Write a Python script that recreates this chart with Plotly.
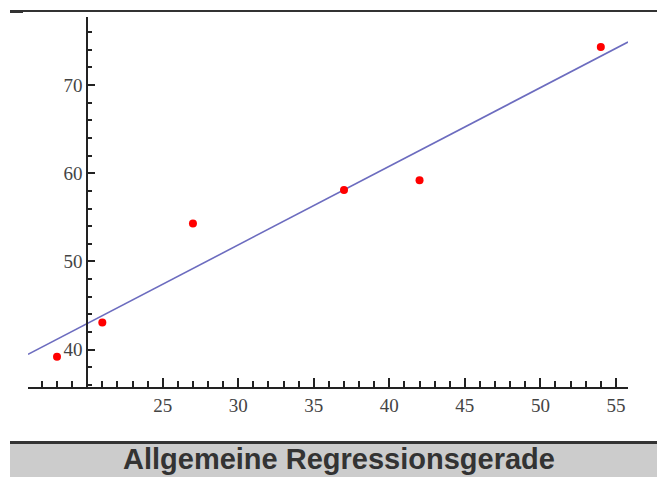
import numpy as np
import plotly.graph_objects as go

# Data
x_values = [18, 21, 27, 37, 42, 54]
y_values = [39.2, 43.1, 54.3, 58.1, 59.2, 74.3]

x_ticks = [25, 30, 35, 40, 45, 50, 55]
y_ticks = [40, 50, 60, 70]
title_text = "Allgemeine Regressionsgerade"

# Axis setup
x_range = [16.08, 55.8]
y_range = [35.78, 77.7]
x_cross = 20  # where the y axis sits

# Least squares regression of the points
slope, intercept = np.polyfit(x_values, y_values, 1)
line_x = np.array(x_range)
line_y = slope * line_x + intercept

W, H = 657, 477
ml, mr, mt, mb = 28, 29, 17, 90
pw, ph = W - ml - mr, H - mt - mb


def px(xp):
    return (xp - ml) / pw


def py(yp):
    return (H - mb - yp) / ph


fig = go.Figure()
fig.add_trace(go.Scatter(x=line_x, y=line_y, mode="lines",
                         line=dict(color="#6c6cbf", width=1.6),
                         hoverinfo="skip", showlegend=False))
fig.add_trace(go.Scatter(x=x_values, y=y_values, mode="markers",
                         marker=dict(color="#ff0000", size=8),
                         showlegend=False))

tick_font = dict(family="Liberation Serif, Times New Roman, serif", size=19, color="#444444")

fig.update_xaxes(range=x_range, showline=True, linecolor="#222222", linewidth=2,
                 ticks="inside", ticklen=9, tickwidth=1.6, tickcolor="#222222",
                 tickmode="array", tickvals=x_ticks, ticktext=[str(v) for v in x_ticks],
                 tickfont=tick_font, showgrid=False, zeroline=False,
                 minor=dict(ticks="inside", ticklen=6, tickwidth=1.6, tickcolor="#222222",
                            tickmode="linear", tick0=0, dtick=1, showgrid=False),
                 anchor="y", fixedrange=True)
fig.update_yaxes(range=y_range, showline=True, linecolor="#222222", linewidth=2,
                 ticks="inside", ticklen=7, tickwidth=1.6, tickcolor="#222222",
                 tickmode="array", tickvals=y_ticks, ticktext=[str(v) for v in y_ticks],
                 tickfont=tick_font, showgrid=False, zeroline=False,
                 minor=dict(ticks="inside", ticklen=4, tickwidth=1.6, tickcolor="#222222",
                            tickmode="linear", tick0=0, dtick=2, showgrid=False),
                 anchor="free", position=(x_cross - x_range[0]) / (x_range[1] - x_range[0]),
                 fixedrange=True)

shapes = [
    # top rule
    dict(type="rect", xref="paper", yref="paper", x0=px(10), x1=px(657), y0=py(12), y1=py(10),
         fillcolor="#333333", line=dict(width=0)),
    dict(type="rect", xref="paper", yref="paper", x0=px(10), x1=px(23), y0=py(13), y1=py(10),
         fillcolor="#333333", line=dict(width=0)),
    # bottom caption band
    dict(type="rect", xref="paper", yref="paper", x0=px(10), x1=px(657), y0=py(477), y1=py(444),
         fillcolor="#cccccc", line=dict(width=0)),
    dict(type="rect", xref="paper", yref="paper", x0=px(10), x1=px(657), y0=py(444), y1=py(441),
         fillcolor="#333333", line=dict(width=0)),
]

fig.update_layout(
    width=W, height=H,
    margin=dict(l=ml, r=mr, t=mt, b=mb, pad=0),
    paper_bgcolor="white", plot_bgcolor="white",
    shapes=shapes,
    annotations=[dict(text="<b>" + title_text + "</b>", xref="paper", yref="paper",
                      x=px(338.5), y=py(459), xanchor="center", yanchor="middle",
                      showarrow=False,
                      font=dict(family="Liberation Sans, Arial, sans-serif", size=29, color="#333333"))],
    showlegend=False,
)

fig.write_html("out.html", config={"displayModeBar": False},
               post_script="document.body.style.margin='0';document.body.style.padding='0';"
                           "document.body.style.overflow='hidden';")
